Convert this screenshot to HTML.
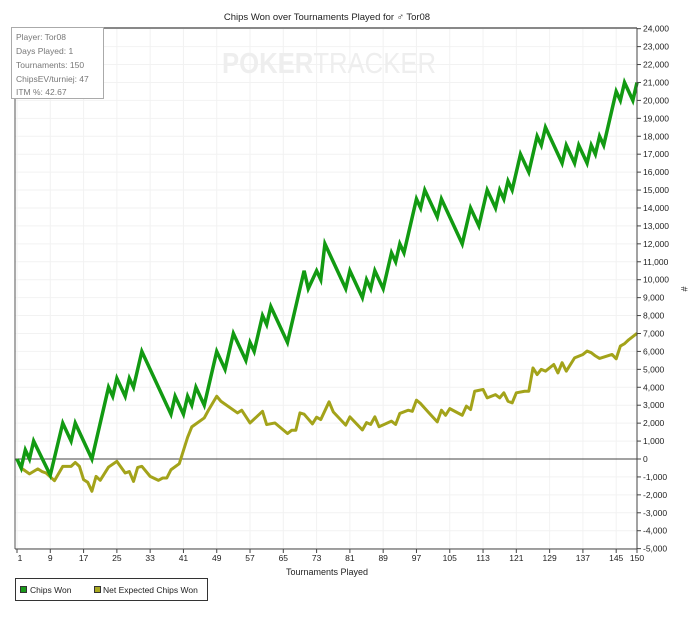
<!DOCTYPE html>
<html><head><meta charset="utf-8"><style>
body{margin:0;background:#fff;width:700px;height:613px;overflow:hidden;font-family:"Liberation Sans",sans-serif}
svg text{font-family:"Liberation Sans",sans-serif}
</style></head><body>
<svg id="chart" width="700" height="613">
<text x="327" y="20" font-size="9.5" text-anchor="middle" fill="#222">Chips Won over Tournaments Played for ♂ Tor08</text>
<g id="grid"></g>
<text x="329" y="73" font-size="29" font-weight="bold" fill="#eeeeee" text-anchor="middle" textLength="214" lengthAdjust="spacingAndGlyphs">POKER<tspan font-weight="normal">TRACKER</tspan></text>
<g id="series"></g>
<line x1="15" y1="28" x2="637" y2="28" stroke="#888" stroke-width="2"/>
<line x1="15" y1="28" x2="15" y2="549" stroke="#555"/>
<line x1="15" y1="549" x2="637" y2="549" stroke="#444"/>
<line x1="637" y1="28" x2="637" y2="549" stroke="#444"/>
<g id="ticks"></g>
<text x="327" y="575" font-size="9" text-anchor="middle" fill="#222">Tournaments Played</text>
<text x="681" y="289" font-size="9" text-anchor="middle" fill="#222" transform="rotate(90 681 289)">#</text>
<g>
<rect x="11.5" y="27.5" width="92" height="71" fill="#fff" stroke="#aaa"/>
<text font-size="8.5" fill="#777"><tspan x="16" y="40">Player: Tor08</tspan><tspan x="16" y="54">Days Played: 1</tspan><tspan x="16" y="68">Tournaments: 150</tspan><tspan x="16" y="82">ChipsEV/turniej: 47</tspan><tspan x="16" y="95">ITM %: 42.67</tspan></text>
</g>
<g>
<rect x="15.5" y="578.5" width="192" height="22" fill="#fff" stroke="#333"/>
<g><rect x="20.5" y="586.5" width="6" height="6" fill="#1a9a1a" stroke="#333"/><text x="30" y="593" font-size="8.5" fill="#222">Chips Won</text></g>
<g><rect x="94.5" y="586.5" width="6" height="6" fill="#a8a820" stroke="#333"/><text x="103" y="593" font-size="8.5" fill="#222">Net Expected Chips Won</text></g>
</g>
</svg>
<script>
const xTicks=[1,9,17,25,33,41,49,57,65,73,81,89,97,105,113,121,129,137,145,150];
const yTicks=[-5000,-4000,-3000,-2000,-1000,0,1000,2000,3000,4000,5000,6000,7000,8000,9000,10000,11000,12000,13000,14000,15000,16000,17000,18000,19000,20000,21000,22000,23000,24000];
const wonT=[1,2,3,4,5,9,12,14,15,19,23,24,25,27,28,29,31,38,39,41,42,43,44,46,49,51,53,56,57,58,60,61,62,66,70,71,73,74,75,80,81,84,85,86,87,89,91,92,93,94,97,98,99,102,103,108,110,112,114,116,117,118,119,120,122,124,126,127,128,132,133,135,136,138,139,140,141,142,145,146,147,149,150];
const wonV=[0,-500,500,0,1000,-900,2000,1000,2000,0,4000,3500,4500,3500,4500,4000,6000,2500,3500,2500,3500,3000,4000,3000,6000,5000,7000,5500,6500,6000,8000,7500,8500,6500,10500,9500,10500,10000,12000,9500,10500,9000,10000,9500,10500,9500,11500,11000,12000,11500,14500,14000,15000,13500,14500,12000,14000,13000,15000,14000,15000,14500,15500,15000,17000,16000,18000,17500,18500,16500,17500,16500,17500,16500,17500,17000,18000,17500,20500,20000,21000,20000,21000];
const evT=[1,2,4,6,7,8,10,12,14,15,16,17,18,19,20,21,23,25,27,28,29,30,31,33,35,36,37,38,40,42,43,46,47,49,50,54,55,57,60,61,63,66,67,68,69,70,72,73,74,76,77,80,81,84,85,86,87,88,91,92,93,95,96,97,98,100,102,103,104,105,108,109,110,111,113,114,116,117,118,119,120,121,123,124,125,126,127,128,130,131,132,133,135,137,138,139,140,141,144,145,146,147,148,150];
const evV=[0,-500,-830,-550,-700,-780,-1210,-410,-410,-190,-410,-1150,-1300,-1800,-970,-1190,-450,-130,-780,-700,-1250,-470,-410,-970,-1190,-1060,-1060,-600,-260,1210,1790,2290,2720,3500,3220,2570,2720,2010,2660,1920,2010,1420,1600,1600,2570,2500,1960,2330,2200,3190,2630,1890,2350,1620,2030,1930,2350,1800,2110,1930,2540,2720,2660,3280,3090,2570,2070,2720,2440,2810,2440,2950,2760,3780,3880,3410,3590,3410,3690,3220,3130,3690,3780,3780,5080,4710,5000,4900,5270,4800,5370,4900,5640,5830,6020,5930,5750,5610,5830,5590,6300,6430,6650,7010];
const X=t=>17+(t-1)*(620/149);
const Y=v=>459-v*17.93/1000;
const NS='http://www.w3.org/2000/svg';
const grid=document.getElementById('grid'),ticks=document.getElementById('ticks'),series=document.getElementById('series');
function mk(tag,attrs,parent){const e=document.createElementNS(NS,tag);for(const k in attrs)e.setAttribute(k,attrs[k]);parent.appendChild(e);return e;}
xTicks.forEach(t=>{
  if(t!==150){const g=mk('line',{x1:X(t),x2:X(t),y1:28,y2:549,stroke:'#f2f2f2'},grid);
  
  }
  const tk=mk('line',{x1:X(t),x2:X(t),y1:549,y2:553,stroke:'#444'},ticks);
  
  
  const lb=mk('text',{x:X(t)+(t===1?3:0),y:561,'font-size':8.5,'text-anchor':'middle',fill:'#222'},ticks);
  lb.textContent=t;
  
  
});
yTicks.forEach(v=>{
  const g=mk('line',{x1:15,x2:637,y1:Y(v),y2:Y(v),stroke:v===0?'#444':'#f2f2f2'},grid);
  
  
  const tk=mk('line',{x1:637,x2:641,y1:Y(v),y2:Y(v),stroke:'#444'},ticks);
  
  
  const lb=mk('text',{x:643,y:Y(v)+3,'font-size':8.5,fill:'#222'},ticks);
  lb.textContent=v.toLocaleString('en-US');
  
  
});
const ev=mk('polyline',{points:evT.map((t,i)=>X(t)+','+Y(evV[i])).join(' '),fill:'none',stroke:'#a3a31a','stroke-width':3,'stroke-linejoin':'round'},series);


const won=mk('polyline',{points:wonT.map((t,i)=>X(t)+','+Y(wonV[i])).join(' '),fill:'none',stroke:'#129a12','stroke-width':3.5,'stroke-linejoin':'miter'},series);


</script>
</body></html>
